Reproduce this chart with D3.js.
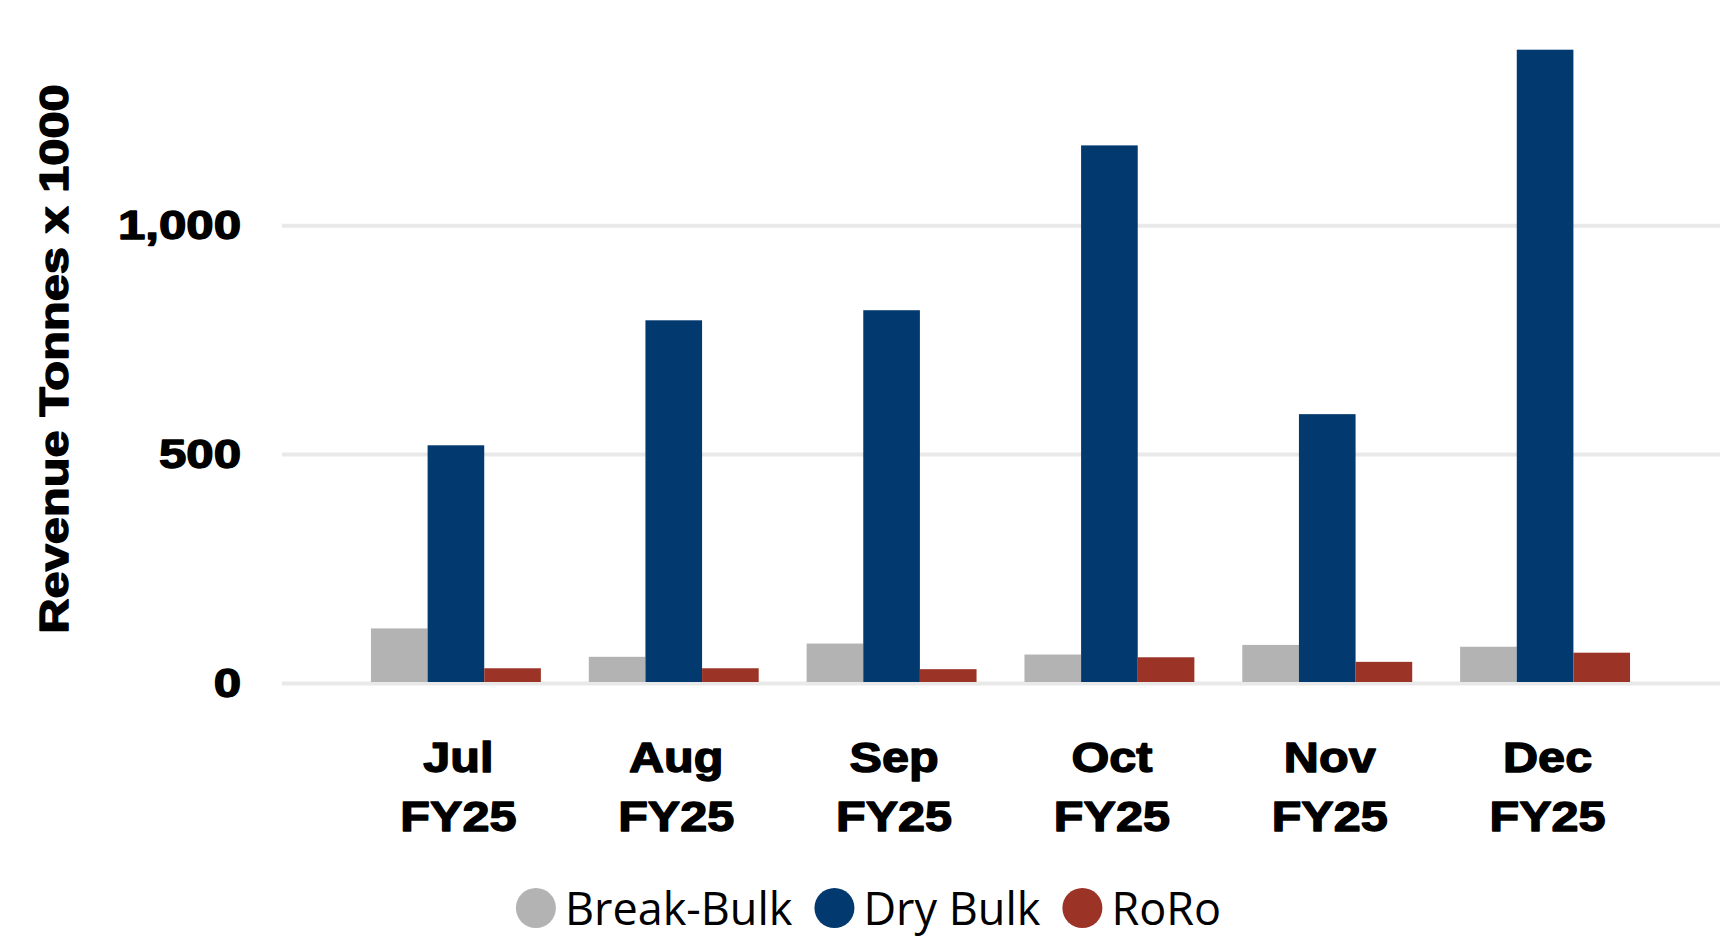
<!DOCTYPE html>
<html>
<head>
<meta charset="utf-8">
<script src="https://cdn.jsdelivr.net/npm/d3@7"></script>
<style>
  html, body { margin: 0; padding: 0; background: #ffffff; }
  svg { display: block; }
</style>
</head>
<body>
<svg id="chart" width="1736" height="938"></svg>
<script>
// ---- data ----
const months = ["Jul", "Aug", "Sep", "Oct", "Nov", "Dec"];
const fiscalYear = ["FY25", "FY25", "FY25", "FY25", "FY25", "FY25"];
const seriesNames = ["Break-Bulk", "Dry Bulk", "RoRo"];
const breakBulk = [117, 55, 84, 60, 81, 77];
const dryBulk = [517, 790, 812, 1172, 585, 1381];
const roRo = [30, 30, 28, 54, 44, 64];
const yTicks = [0, 500, 1000];
const yTitle = "Revenue Tonnes x 1000";

const seriesValues = [breakBulk, dryBulk, roRo];
const colors = ["#b3b3b3", "#02396f", "#9b3326"];

const svg = d3.select("#chart");
const heavy = "'Liberation Sans', Arial, sans-serif";

const x = d3.scaleBand().domain(months).range([347, 1654]).paddingInner(0.22).paddingOuter(0.11);
const xs = d3.scaleBand().domain(seriesNames).range([0, x.bandwidth()]);
const y = d3.scaleLinear().domain([0, 1400]).range([682, 41]);

// gridlines
svg.append("g").selectAll("line").data(yTicks).join("line")
  .attr("x1", 282).attr("x2", 1720)
  .attr("y1", d => y(d) + 1.5).attr("y2", d => y(d) + 1.5)
  .attr("stroke", "#e9e9e9").attr("stroke-width", 4);

// bars
const rows = months.map((m, i) => ({ m, vals: seriesNames.map((s, j) => ({ s, j, v: seriesValues[j][i] })) }));
svg.append("g").selectAll("g").data(rows).join("g")
  .attr("transform", d => `translate(${x(d.m)},0)`)
  .selectAll("rect").data(d => d.vals).join("rect")
  .attr("x", d => xs(d.s)).attr("width", xs.bandwidth())
  .attr("y", d => y(d.v)).attr("height", d => y(0) - y(d.v))
  .attr("fill", d => colors[d.j]);

// y tick labels
svg.append("g").selectAll("text").data(yTicks).join("text")
  .attr("transform", d => `translate(241,${y(d)}) scale(1.2,1)`)
  .attr("dy", "0.36em")
  .attr("text-anchor", "end")
  .attr("font-family", heavy).attr("font-weight", "bold").attr("font-size", 41)
  .attr("fill", "#000").attr("stroke", "#000").attr("stroke-width", 1.4).attr("stroke-linejoin", "round")
  .text(d => d3.format(",")(d));

// y title
svg.append("text")
  .attr("transform", "translate(68,359) rotate(-90) scale(1.19,1)")
  .attr("text-anchor", "middle")
  .attr("font-family", heavy).attr("font-weight", "bold").attr("font-size", 41)
  .attr("fill", "#000").attr("stroke", "#000").attr("stroke-width", 1.4).attr("stroke-linejoin", "round")
  .text(yTitle);

// x labels
const xl = svg.append("g").selectAll("g").data(months).join("g")
  .attr("transform", d => `translate(${x(d) + x.bandwidth() / 2 + 2.5},0)`);
[[0, 772, d => d], [1, 831, (d, i) => fiscalYear[i]]].forEach(([k, by, fn]) => {
  xl.append("text")
    .attr("transform", `translate(0,${by}) scale(1.13,1)`)
    .attr("text-anchor", "middle")
    .attr("font-family", heavy).attr("font-weight", "bold").attr("font-size", 43)
    .attr("fill", "#000").attr("stroke", "#000").attr("stroke-width", 1.4).attr("stroke-linejoin", "round")
    .text((d, i) => fn(d, months.indexOf(d)));
});

// legend
const lg = svg.append("g");
let cx = 0;
seriesNames.forEach((s, j) => {
  const g = lg.append("g");
  g.append("circle").attr("cx", cx + 20).attr("cy", 908).attr("r", 20).attr("fill", colors[j]);
  const t = g.append("text").attr("x", cx + 49).attr("y", 925)
    .attr("font-family", "'Open Sans', sans-serif").attr("font-size", 45).attr("fill", "#000").text(s);
  const w = t.node().getComputedTextLength();
  cx += 49 + w + 22;
});
const totalW = cx - 22;
lg.attr("transform", `translate(${868.5 - totalW / 2},0)`);
</script>
</body>
</html>
